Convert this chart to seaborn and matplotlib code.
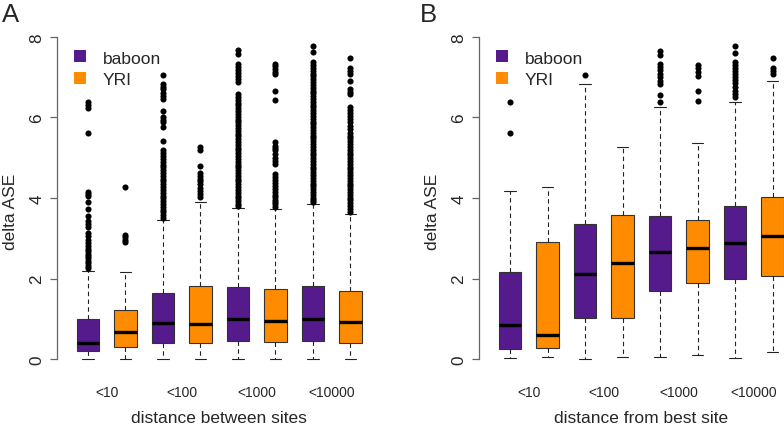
import numpy as np
import pandas as pd
import matplotlib
matplotlib.use("Agg")
import matplotlib.pyplot as plt
from matplotlib.lines import Line2D
import seaborn as sns

# ---------------- data ----------------
distances = ["<10", "<100", "<1000", "<10000"]
species = ["baboon", "YRI"]
colors = {"baboon": "#551A8B", "YRI": "#FF8C00"}

# Panel A: distance between sites (box order: <10 baboon, <10 YRI, <100 baboon, ...)
a_low = [0.0, 0.0, 0.0, 0.0, 0.0, 0.0, 0.0, 0.0]
a_q1 = [0.19, 0.29, 0.41, 0.41, 0.44, 0.43, 0.45, 0.40]
a_med = [0.41, 0.68, 0.89, 0.86, 0.99, 0.94, 0.99, 0.91]
a_q3 = [0.99, 1.21, 1.63, 1.81, 1.78, 1.75, 1.81, 1.68]
a_high = [2.18, 2.15, 3.46, 3.91, 3.75, 3.73, 3.85, 3.60]
a_out = [
    [6.39, 6.31, 6.23, 5.61, 4.16, 4.10, 4.06, 3.89, 3.73, 3.55, 3.42, 3.35, 3.27,
     3.13, 3.06, 2.95, 2.88, 2.81, 2.74, 2.68, 2.62, 2.56, 2.50, 2.44, 2.38, 2.32, 2.26],
    [4.27, 3.08, 3.02, 2.95, 2.90],
    [7.06, 6.83, 6.76, 6.71, 6.61, 6.54, 6.46, 6.17, 6.00, 5.94, 5.88, 5.76, 5.42,
     5.18, 5.11, 5.04, 4.97, 4.90, 4.83, 4.76, 4.69, 4.62, 4.55, 4.48, 4.41, 4.34,
     4.27, 4.20, 4.13, 4.06, 3.99, 3.92, 3.85, 3.78, 3.71, 3.64, 3.57, 3.51],
    [5.26, 5.20, 4.80, 4.62, 4.55, 4.48, 4.42, 4.35, 4.25, 4.18, 4.10, 4.02],
    [7.68, 7.58, 7.33, 7.25, 7.18, 7.10, 7.02, 6.95, 6.88, 6.58, 6.51, 6.44, 6.37,
     6.30, 6.23, 6.16, 6.09, 6.02, 5.95, 5.88, 5.81, 5.74, 5.67, 5.60, 5.53, 5.46,
     5.39, 5.32, 5.25, 5.18, 5.11, 5.04, 4.97, 4.90, 4.83, 4.76, 4.69, 4.62, 4.55,
     4.48, 4.41, 4.34, 4.27, 4.20, 4.13, 4.06, 3.99, 3.92, 3.85, 3.80],
    [7.33, 7.27, 7.20, 7.14, 7.08, 6.67, 6.44, 5.38, 5.30, 5.24, 5.18, 5.10, 4.99,
     4.92, 4.84, 4.60, 4.52, 4.45, 4.38, 4.30, 4.22, 4.15, 4.08, 4.02, 3.96, 3.90,
     3.84, 3.78],
    [7.77, 7.62, 7.37, 7.30, 7.23, 7.16, 7.09, 7.02, 6.95, 6.88, 6.81, 6.74, 6.67,
     6.60, 6.53, 6.46, 6.39, 6.32, 6.25, 6.18, 6.11, 6.04, 5.97, 5.90, 5.83, 5.76,
     5.69, 5.62, 5.55, 5.48, 5.41, 5.34, 5.27, 5.20, 5.13, 5.06, 4.99, 4.92, 4.85,
     4.78, 4.71, 4.64, 4.57, 4.50, 4.43, 4.36, 4.29, 4.22, 4.15, 4.08, 4.01, 3.94,
     3.90],
    [7.48, 7.22, 7.15, 7.08, 6.91, 6.71, 6.64, 6.58, 6.25, 6.18, 6.10, 6.03, 5.96,
     5.89, 5.80, 5.71, 5.62, 5.55, 5.48, 5.41, 5.34, 5.27, 5.20, 5.13, 5.06, 4.99,
     4.92, 4.85, 4.78, 4.71, 4.64, 4.57, 4.50, 4.43, 4.36, 4.29, 4.22, 4.15, 4.08,
     4.01, 3.94, 3.87, 3.80, 3.73, 3.66],
]

# Panel B: distance from best site
b_low = [0.03, 0.05, 0.00, 0.05, 0.04, 0.10, 0.03, 0.17]
b_q1 = [0.26, 0.28, 1.02, 1.02, 1.69, 1.90, 1.99, 2.06]
b_med = [0.84, 0.60, 2.11, 2.39, 2.65, 2.77, 2.89, 3.06]
b_q3 = [2.17, 2.91, 3.35, 3.57, 3.55, 3.45, 3.79, 4.03]
b_high = [4.17, 4.27, 6.82, 5.26, 6.25, 5.36, 6.38, 6.90]
b_out = [
    [6.38, 5.61],
    [],
    [7.06],
    [],
    [7.66, 7.55, 7.33, 7.25, 7.17, 7.08, 7.00, 6.90, 6.83, 6.56, 6.39],
    [7.30, 7.22, 7.13, 7.04, 6.66, 6.41],
    [7.77, 7.60, 7.37, 7.30, 7.22, 7.15, 7.07, 7.00, 6.93, 6.85, 6.75, 6.66, 6.58, 6.50],
    [7.47, 7.22, 7.15, 7.08],
]

x_labels = ["distance between sites", "distance from best site"]
panel_letters = ["A", "B"]

# ---------------- helpers ----------------
groups = [f"{d} {s}" for d in distances for s in species]
group_species = [s for d in distances for s in species]


def box_frame(low, q1, med, q3, high):
    rows = []
    for g, sp, vals in zip(groups, group_species, zip(low, q1, med, q3, high)):
        for v in vals:
            rows.append({"group": g, "species": sp, "delta": v})
    return pd.DataFrame(rows)


def outlier_frame(outs):
    rows = []
    for g, sp, vals in zip(groups, group_species, outs):
        for v in vals:
            rows.append({"group": g, "species": sp, "delta": v})
    return pd.DataFrame(rows, columns=["group", "species", "delta"])


sns.set_style("white")
plt.rcParams["font.family"] = ["Liberation Sans", "DejaVu Sans"]

fig = plt.figure(figsize=(7.84, 4.27), dpi=100)
W, H = 784, 427
axes_px = [57.25, 479.25]
ax_w = 324.0
y_lo, y_hi = -0.32, 8.32
bottom_px, top_px = 372.9, 25.1

panels = [
    (a_low, a_q1, a_med, a_q3, a_high, a_out),
    (b_low, b_q1, b_med, b_q3, b_high, b_out),
]

for k, (low, q1, med, q3, high, outs) in enumerate(panels):
    ax = fig.add_axes([axes_px[k] / W, (H - bottom_px) / H, ax_w / W,
                       (bottom_px - top_px) / H])
    bdf = box_frame(low, q1, med, q3, high)
    odf = outlier_frame(outs)
    sns.boxplot(data=bdf, x="group", y="delta", hue="species", order=groups,
                hue_order=species, palette=colors, dodge=False, whis=(0, 100),
                width=0.613, saturation=1, showfliers=False, legend=False,
                linecolor="#222222", linewidth=0.8,
                medianprops={"color": "black", "linewidth": 2.4, "solid_capstyle": "butt"},
                whiskerprops={"color": "#222222", "linewidth": 0.8,
                              "linestyle": (0, (4.0, 3.0))},
                capprops={"color": "#222222", "linewidth": 0.8},
                boxprops={"edgecolor": "#333333", "linewidth": 0.8},
                ax=ax)
    sns.stripplot(data=odf, x="group", y="delta", order=groups, color="black",
                  jitter=False, size=4.4, linewidth=0, ax=ax, zorder=5)

    ax.set_xlim(-0.82, 7.82)
    ax.set_ylim(y_lo, y_hi)
    for s in ["top", "right", "bottom"]:
        ax.spines[s].set_visible(False)
    ax.spines["left"].set_bounds(0, 8)
    ax.spines["left"].set_color("#666666")
    ax.spines["left"].set_linewidth(0.9)

    ax.set_xticks([0.5, 2.5, 4.5, 6.5])
    ax.set_xticklabels(distances, fontsize=10)
    ax.tick_params(axis="x", length=0, pad=9.6)

    ax.set_yticks([0, 2, 4, 6, 8])
    ax.set_yticklabels(["0", "2", "4", "6", "8"], fontsize=12.3, rotation=90,
                       va="center")
    ax.tick_params(axis="y", length=5.4, width=0.9, color="#666666", pad=3.9,
                   direction="out", left=True)

    ax.set_xlabel(x_labels[k], fontsize=12.5)
    ax.xaxis.set_label_coords(0.5, -0.1095)
    ax.set_ylabel("delta ASE", fontsize=12.5)
    ax.yaxis.set_label_coords(-0.1211, 0.4626)

    handles = [Line2D([], [], marker="s", linestyle="none", markersize=8,
                      markerfacecolor=colors[s], markeredgewidth=0) for s in species]
    ax.legend(handles, species, loc="upper left", bbox_to_anchor=(0.042, 0.9245),
              frameon=False, fontsize=12.5, handlelength=1.0, handletextpad=0.83,
              labelspacing=0.38, borderpad=0, borderaxespad=0)

    fig.text((1.5 if k == 0 else 419.5) / W, 1 - 21.7 / H, panel_letters[k],
             fontsize=18.5, va="baseline", ha="left")

fig.savefig("out.png", dpi=100)
